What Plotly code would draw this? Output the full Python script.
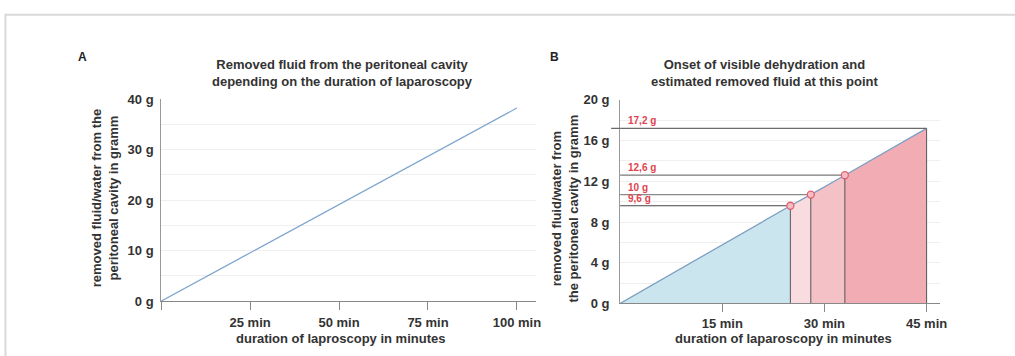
import plotly.graph_objects as go

# ---------------- data ----------------
# Panel A: removed fluid vs duration
a_minutes = [0, 100]
a_grams = [0, 38.2]
a_xticks = [0, 25, 50, 75, 100]
a_xticktext = ["", "25 min", "50 min", "75 min", "100 min"]
a_yticks = [0, 10, 20, 30, 40]
a_yticktext = ["0 g", "10 g", "20 g", "30 g", "40 g"]

# Panel B: onset of visible dehydration
b_minutes = [0, 25, 28, 33, 45]
b_grams = [0, 9.6, 10.7, 12.6, 17.2]
b_labels = ["", "9,6 g", "10 g", "12,6 g", "17,2 g"]
b_xticks = [15, 30, 45]
b_xticktext = ["15 min", "30 min", "45 min"]
b_yticks = [0, 4, 8, 12, 16, 20]
b_yticktext = ["0 g", "4 g", "8 g", "12 g", "16 g", "20 g"]

# ---------------- styling ----------------
W, H = 1015, 356
FONT = "Liberation Sans, Arial, sans-serif"
TXT = "#333333"
LINE_BLUE = "#7fa6cf"
FILLS = ["rgba(200,228,238,0.95)", "rgba(248,218,222,0.95)",
         "rgba(243,190,196,0.95)", "rgba(240,168,176,0.95)"]
REF_COLORS = ["#444444", "#8a8a8a", "#7a7a7a", "#6a6a6a"]
RED = "#e0444f"

def px(x):
    return x / W

def py(y):
    return 1 - y / H

fig = go.Figure()

# Panel A line
fig.add_trace(go.Scatter(x=a_minutes, y=a_grams, mode="lines",
                         line=dict(color=LINE_BLUE, width=1.3),
                         xaxis="x", yaxis="y", hoverinfo="skip"))

# Panel B filled segments
for i in range(len(b_minutes) - 1):
    fig.add_trace(go.Scatter(x=b_minutes[i:i + 2], y=b_grams[i:i + 2],
                             mode="lines", fill="tozeroy",
                             fillcolor=FILLS[i],
                             line=dict(color="#7d9fc2", width=1.3),
                             xaxis="x2", yaxis="y2", hoverinfo="skip"))

# Panel B reference lines
for i in range(1, len(b_minutes)):
    m, g = b_minutes[i], b_grams[i]
    fig.add_trace(go.Scatter(x=[m, m], y=[0, g], mode="lines",
                             line=dict(color="#555555", width=1),
                             xaxis="x2", yaxis="y2", hoverinfo="skip"))
    fig.add_trace(go.Scatter(x=[0, m], y=[g, g], mode="lines",
                             line=dict(color=REF_COLORS[i - 1], width=1.2),
                             xaxis="x2", yaxis="y2", hoverinfo="skip"))

# Panel B markers
fig.add_trace(go.Scatter(x=b_minutes[1:4], y=b_grams[1:4], mode="markers",
                         marker=dict(symbol="circle", size=7,
                                     color="rgba(245,190,196,1)",
                                     line=dict(color="#e06070", width=1.3)),
                         xaxis="x2", yaxis="y2", hoverinfo="skip",
                         cliponaxis=False))

tickfont = dict(family=FONT, size=13, color=TXT, weight="bold")

fig.update_layout(
    width=W, height=H,
    margin=dict(l=0, r=0, t=0, b=0),
    paper_bgcolor="white", plot_bgcolor="white",
    showlegend=False,
    xaxis=dict(domain=[px(162.5), px(540)], range=[0, 105.3], anchor="y",
               showline=True, linecolor="#888888", linewidth=1,
               ticks="outside", ticklen=8, tickcolor="#888888",
               tickmode="array", tickvals=a_xticks, ticktext=a_xticktext,
               showgrid=False, zeroline=False, tickfont=tickfont,
               ticklabelstandoff=1),
    yaxis=dict(domain=[py(307), py(96)], range=[0, 40], anchor="x",
               showline=True, linecolor="#999999", linewidth=1,
               ticks="", tickmode="array", tickvals=a_yticks,
               ticktext=a_yticktext, showgrid=True, gridcolor="#efefef",
               minor=dict(dtick=5, showgrid=True, gridcolor="#efefef"),
               zeroline=False, tickfont=tickfont, ticklabelstandoff=4),
    xaxis2=dict(domain=[px(625), px(947)], range=[0, 46.9], anchor="y2",
                showline=True, linecolor="#888888", linewidth=1,
                ticks="outside", ticklen=8, tickcolor="#888888",
                tickmode="array", tickvals=b_xticks, ticktext=b_xticktext,
                showgrid=False, zeroline=False, tickfont=tickfont,
                ticklabelstandoff=0),
    yaxis2=dict(domain=[py(309.5), py(97)], range=[0, 20], anchor="x2",
                showline=True, linecolor="#999999", linewidth=1,
                ticks="", tickmode="array", tickvals=b_yticks,
                ticktext=b_yticktext, showgrid=True, gridcolor="#efefef",
                minor=dict(dtick=2, showgrid=True, gridcolor="#efefef"),
                zeroline=False, tickfont=tickfont, ticklabelstandoff=7),
)

annotations = []

def ann(text, x, y, size=13, color=TXT, bold=True, textangle=0,
        xanchor="center", yanchor="middle"):
    annotations.append(dict(text=text, x=px(x), y=py(y), xref="paper",
                            yref="paper", showarrow=False,
                            textangle=textangle, xanchor=xanchor,
                            yanchor=yanchor,
                            font=dict(family=FONT, size=size, color=color,
                                      weight="bold" if bold else "normal")))

ann("A", 83, 52, size=12, color="#222222")
ann("B", 559, 52, size=12, color="#222222")
ann("Removed fluid from the peritoneal cavity<br>depending on the duration of laparoscopy",
    345, 68.5)
ann("Onset of visible dehydration and<br>estimated removed fluid at this point",
    771, 68.5)
ann("duration of laproscopy in minutes", 343, 346)
ann("duration of laparoscopy in minutes", 790, 346.5)
ann("removed fluid/water from the<br>peritoneal cavity in gramm", 105.5, 200,
    textangle=-90)
ann("removed fluid/water from<br>the peritoneal cavity in gramm", 570, 211,
    textangle=-90)

# red value labels in panel B
for i in range(1, len(b_minutes)):
    annotations.append(dict(text=b_labels[i], x=0.9, y=b_grams[i],
                            xref="x2", yref="y2", showarrow=False,
                            xanchor="left", yanchor="bottom", yshift=0,
                            font=dict(family=FONT, size=10, color=RED,
                                      weight="bold")))

fig.update_layout(annotations=annotations)

# short extension of the top reference line left of the axis, and frame
shapes = [
    dict(type="line", xref="paper", yref="y2", x0=px(616), x1=px(625),
         y0=b_grams[-1], y1=b_grams[-1], line=dict(color=REF_COLORS[-1], width=1.2)),
    dict(type="rect", xref="paper", yref="paper", x0=px(5.5), x1=1.05,
         y0=-0.05, y1=py(8), line=dict(color="#d9d9d9", width=2),
         fillcolor="rgba(0,0,0,0)", layer="below"),
]
fig.update_layout(shapes=shapes)

fig.write_html("out.html")
